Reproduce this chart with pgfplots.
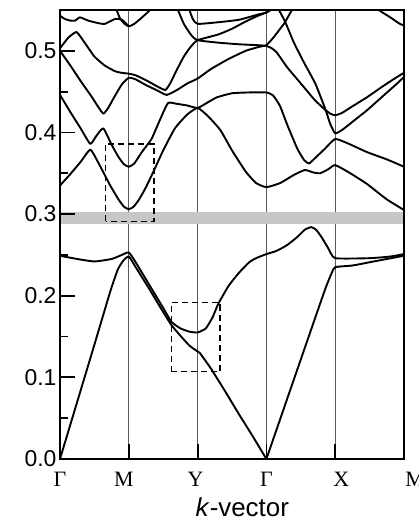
\documentclass[border=0pt]{standalone}
\usepackage{fontspec}
\setmainfont{Liberation Sans}
\newfontfamily\seriffont{Liberation Serif}
\usepackage{pgfplots}
\pgfplotsset{compat=1.18}
\begin{document}
\begin{tikzpicture}
\begin{axis}[
  name=ax,
  scale only axis, width=344bp, height=449bp,
  xmin=0, xmax=5, ymin=0, ymax=0.55,
  axis on top,
  axis line style={line width=2bp},
  xtick={0,1,2,3,4,5},
  xticklabels={Γ, \hspace*{-10bp}M, \hspace*{-4bp}Y, Γ, \hspace*{12bp}X, \hspace*{22bp}M},
  xticklabel style={font=\seriffont\fontsize{22}{22}\selectfont, yshift=-10bp},
  ytick={0,0.1,0.2,0.3,0.4,0.5},
  yticklabels={0.0,0.1,0.2,0.3,0.4,0.5},
  minor ytick={0.05,0.15,0.25,0.35,0.45},
  yticklabel style={font=\fontsize{23}{23}\selectfont},
  ytick pos=left, xtick pos=bottom,
  tick align=inside,
  major tick length=15bp, minor tick length=8bp,
  tick style={line width=1.8bp, black},
  minor tick style={line width=1.8bp, black},
  xlabel={\textit{k}-vector},
  xlabel style={at={(axis description cs:0.53,0)}, anchor=base, yshift=-57bp, font=\fontsize{26}{26}\selectfont},
  band/.style={black, line width=1.9bp, smooth, tension=0.3, line join=round},
]
% reference lines at symmetry points
\draw[black!65, line width=1bp] (axis cs:1,0) -- (axis cs:1,0.55);
\draw[black!65, line width=1bp] (axis cs:2,0) -- (axis cs:2,0.55);
\draw[black!65, line width=1bp] (axis cs:3,0) -- (axis cs:3,0.55);
\draw[black!65, line width=1bp] (axis cs:4,0) -- (axis cs:4,0.55);
% band gap
\fill[black!22] (axis cs:0,0.288) rectangle (axis cs:5,0.302);
% dashed boxes
\draw[black, line width=1.5bp, dash pattern=on 6bp off 4bp] (axis cs:0.664,0.291) rectangle (axis cs:1.366,0.386);
\draw[black, line width=1.5bp, dash pattern=on 6bp off 4bp] (axis cs:1.623,0.107) rectangle (axis cs:2.326,0.192);

% lower bands
\addplot[band] coordinates {(0,0) (0.25,0.07) (0.5,0.14) (0.73,0.205) (0.84,0.232) (0.92,0.243) (1,0.248) (1.1,0.235) (1.3,0.208) (1.5,0.18) (1.62,0.164) (1.75,0.151) (1.88,0.139) (1.96,0.134) (2.03,0.13) (2.1,0.122) (2.2,0.11) (2.4,0.083) (2.6,0.055) (2.8,0.028) (3,0)};
\addplot[band] coordinates {(3,0) (3.5,0.122) (3.85,0.207) (3.95,0.228) (4,0.235) (4.25,0.237) (4.5,0.241) (4.75,0.245) (5,0.249)};
\addplot[band] coordinates {(0,0.249) (0.25,0.245) (0.5,0.242) (0.75,0.245) (0.9,0.25) (1,0.253) (1.1,0.241) (1.3,0.213) (1.5,0.185) (1.62,0.168) (1.75,0.16) (1.88,0.156) (2,0.155) (2.12,0.16) (2.22,0.174) (2.3,0.19) (2.45,0.212) (2.6,0.228) (2.75,0.241) (2.85,0.246) (3,0.251) (3.15,0.255) (3.3,0.262) (3.45,0.272) (3.56,0.281) (3.65,0.284) (3.72,0.281) (3.8,0.272) (3.9,0.258) (4,0.246) (4.5,0.246) (4.8,0.248) (5,0.251)};

% upper bands
\addplot[band] coordinates {(0,0.335) (0.15,0.349) (0.3,0.364) (0.44,0.379) (0.55,0.364) (0.65,0.348) (0.73,0.335) (0.85,0.318) (0.93,0.309) (1,0.306) (1.07,0.309) (1.15,0.318) (1.25,0.333) (1.38,0.356) (1.5,0.378) (1.67,0.405) (1.85,0.422) (2,0.43) (2.15,0.42) (2.33,0.403) (2.5,0.378) (2.7,0.352) (2.85,0.338) (3,0.333) (3.2,0.338) (3.4,0.348) (3.56,0.354) (3.68,0.351) (3.78,0.35) (3.9,0.355) (4,0.36) (4.2,0.351) (4.46,0.337) (4.75,0.318) (5,0.305)};
\addplot[band] coordinates {(0,0.446) (0.15,0.425) (0.3,0.405) (0.44,0.386) (0.53,0.396) (0.63,0.405) (0.75,0.385) (0.85,0.37) (0.93,0.361) (1,0.358) (1.08,0.362) (1.19,0.376) (1.33,0.392) (1.45,0.415) (1.57,0.436) (1.7,0.435) (1.85,0.433) (2,0.43) (2.15,0.437) (2.28,0.443) (2.5,0.448) (2.75,0.449) (3,0.449) (3.1,0.445) (3.2,0.432) (3.3,0.41) (3.45,0.38) (3.55,0.366) (3.62,0.362) (3.7,0.368) (3.85,0.38) (4,0.392) (4.2,0.386) (4.46,0.376) (4.75,0.367) (5,0.358)};
\addplot[band] coordinates {(0,0.5) (0.15,0.482) (0.3,0.463) (0.45,0.445) (0.55,0.432) (0.63,0.423) (0.7,0.43) (0.8,0.445) (0.9,0.459) (1,0.467) (1.1,0.465) (1.25,0.458) (1.4,0.452) (1.55,0.446) (1.7,0.452) (1.85,0.46) (2,0.466) (2.2,0.478) (2.45,0.49) (2.7,0.5) (2.9,0.505) (3,0.507) (3.1,0.516) (3.2,0.527) (3.27,0.535) (3.37,0.55) (3.4,0.555)};
\addplot[band] coordinates {(0,0.503) (0.12,0.516) (0.24,0.523) (0.35,0.511) (0.5,0.493) (0.65,0.482) (0.8,0.475) (0.9,0.473) (1,0.472) (1.1,0.47) (1.25,0.464) (1.4,0.457) (1.53,0.452) (1.6,0.46) (1.7,0.477) (1.8,0.493) (1.9,0.505) (2,0.513) (2.3,0.52) (2.5,0.527) (2.7,0.536) (2.88,0.543) (3,0.547) (3.05,0.55) (3.08,0.553)};
\addplot[band] coordinates {(1.69,0.555) (1.8,0.533) (1.91,0.519) (2,0.513) (2.3,0.51) (2.6,0.508) (2.85,0.507) (3,0.506) (3.08,0.503) (3.15,0.498) (3.3,0.48) (3.45,0.465) (3.56,0.454) (3.7,0.44) (3.85,0.428) (3.93,0.423) (4,0.421) (4.1,0.424) (4.25,0.432) (4.46,0.443) (4.7,0.457) (4.9,0.468) (5,0.473)};
\addplot[band] coordinates {(1.86,0.555) (1.93,0.539) (2,0.533) (2.3,0.535) (2.6,0.538) (2.86,0.544) (3,0.547) (3.17,0.555)};
\addplot[band] coordinates {(3.15,0.555) (3.27,0.536) (3.4,0.51) (3.55,0.485) (3.71,0.46) (3.85,0.43) (3.93,0.41) (4,0.399) (4.1,0.403) (4.25,0.413) (4.46,0.427) (4.7,0.445) (4.9,0.46) (5,0.468)};
\addplot[band] coordinates {(0,0.543) (0.07,0.539) (0.15,0.537) (0.22,0.537) (0.29,0.541) (0.41,0.537) (0.55,0.534) (0.65,0.533) (0.8,0.539) (0.9,0.538) (1,0.530)};
\addplot[band] coordinates {(0.8,0.555) (0.87,0.54) (0.94,0.533) (1,0.53) (1.08,0.533) (1.18,0.54) (1.31,0.55) (1.35,0.555)};
\addplot[band] coordinates {(4.58,0.555) (4.65,0.549) (4.8,0.541) (4.94,0.533) (5,0.531)};
\end{axis}
\pgfresetboundingbox
\path[use as bounding box] ([xshift=-60bp,yshift=-65bp]ax.south west) rectangle ([xshift=15bp,yshift=10bp]ax.north east);
\end{tikzpicture}
\end{document}
